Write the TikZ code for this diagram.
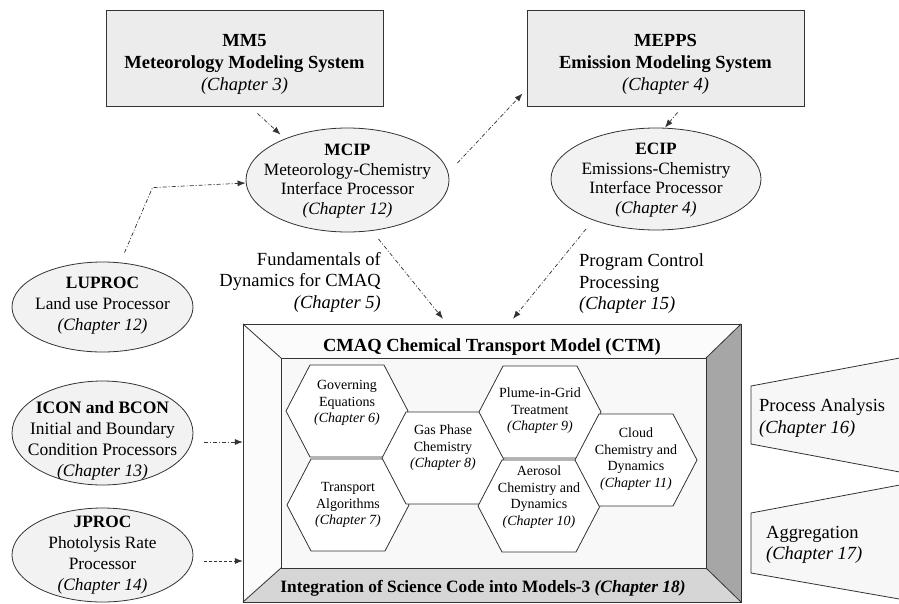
\documentclass[tikz,border=0pt]{standalone}
\usepackage{fontspec}
\setmainfont{Liberation Serif}
\usetikzlibrary{shapes.geometric,arrows.meta}
\definecolor{boxfill}{HTML}{ECECEC}
\definecolor{ellfill}{HTML}{F2F2F2}
\definecolor{linec}{HTML}{333333}
\definecolor{facelight}{HTML}{FBFBFB}
\definecolor{faceright}{HTML}{A6A6A6}
\definecolor{facebottom}{HTML}{D6D6D6}
\definecolor{faceinner}{HTML}{F8F8F8}
\definecolor{trapfill}{HTML}{F7F7F7}
\newcommand\hexat[1]{\draw[hexline] (#1) ++(-61,0) -- ++(24,-46) -- ++(74,0) -- ++(24,46) -- ++(-24,46) -- ++(-74,0) -- cycle;}
\begin{document}
\begin{tikzpicture}[x=1pt,y=-1pt,
  boxst/.style={draw=linec, fill=boxfill, line width=0.9pt, minimum width=277pt, minimum height=96pt, inner sep=0pt},
  boxtext/.style={align=center, inner sep=0pt, font=\fontsize{18.5}{22}\selectfont\bfseries},
  ellst/.style={ellipse, draw=linec, fill=ellfill, line width=0.8pt, inner sep=0pt},
  elltext/.style={align=center, inner sep=0pt, font=\fontsize{17.3}{19.5}\selectfont},
  plaintext/.style={inner sep=0pt, font=\fontsize{18.5}{21.5}\selectfont},
  hexline/.style={draw=linec, fill=white, line width=0.8pt},
  hextext/.style={align=center, inner sep=0pt, font=\fontsize{14}{16.5}\selectfont},
  face/.style={draw=linec, line width=0.8pt},
  arr/.style={-{Latex[length=8pt,width=6pt]}, draw=linec, line width=0.7pt, dash pattern=on 4pt off 2pt on 1pt off 2pt},
  arrd/.style={-{Latex[length=8pt,width=6pt]}, draw=linec, line width=0.7pt, dash pattern=on 3pt off 2pt}
]
\useasboundingbox (0,0) rectangle (899,603);

% top boxes
\node[boxst] (mm5) at (244.5,58) {};
\node[boxtext] (mm5t) at (244.5,64) {MM5\\Meteorology Modeling System\\{\mdseries\itshape (Chapter 3)}};
\node[boxst] (mepps) at (665.5,58) {};
\node[boxtext] (meppst) at (665.5,64) {MEPPS\\Emission Modeling System\\{\mdseries\itshape (Chapter 4)}};

% ellipses
\node[ellst, minimum width=203pt, minimum height=104pt] (mcip) at (347.5,180) {};
\node[elltext] (mcipt) at (347.5,181)
  {\textbf{MCIP}\\Meteorology-Chemistry\\Interface Processor\\\textit{(Chapter 12)}};
\node[ellst, minimum width=210pt, minimum height=102pt] (ecip) at (656,179) {};
\node[elltext] (ecipt) at (656,180)
  {\textbf{ECIP}\\Emissions-Chemistry\\Interface Processor\\\textit{(Chapter 4)}};
\node[ellst, minimum width=181pt, minimum height=90pt] (luproc) at (102.5,307) {};
\node[elltext, font=\fontsize{17.3}{21}\selectfont] (luproct) at (102.5,306)
  {\textbf{LUPROC}\\Land use Processor\\\textit{(Chapter 12)}};
\node[ellst, minimum width=181pt, minimum height=104pt] (icon) at (102.5,433) {};
\node[elltext, font=\fontsize{17.5}{21}\selectfont] (icont) at (102.5,441)
  {\textbf{ICON and BCON}\\Initial and Boundary\\Condition Processors\\\textit{(Chapter 13)}};
\node[ellst, minimum width=181pt, minimum height=94pt] (jproc) at (102.5,555) {};
\node[elltext, font=\fontsize{17.3}{21}\selectfont] (jproct) at (102.5,555)
  {\textbf{JPROC}\\Photolysis Rate\\Processor\\\textit{(Chapter 14)}};

% labels
\node[plaintext, align=right, anchor=east] (fund) at (381,282)
  {Fundamentals of\\Dynamics for CMAQ\\\textit{(Chapter 5)}};
\node[plaintext, align=left, anchor=west] (pcp) at (579,284)
  {Program Control\\Processing\\\textit{(Chapter 15)}};

% CTM box
\node[minimum width=498pt, minimum height=278pt, inner sep=0pt] (ctm) at (492,463) {};
\fill[facelight] (243,324) -- (741,324) -- (706,358) -- (281,358) -- cycle;
\fill[facelight] (243,324) -- (281,358) -- (281,568) -- (243,602) -- cycle;
\fill[faceright] (741,324) -- (706,358) -- (706,568) -- (741,602) -- cycle;
\fill[facebottom] (243,602) -- (281,568) -- (706,568) -- (741,602) -- cycle;
\fill[faceinner] (281,358) rectangle (706,568);
\draw[face] (243,324) rectangle (741,602);
\draw[face] (281,358) rectangle (706,568);
\draw[face] (243,324) -- (281,358) (741,324) -- (706,358) (243,602) -- (281,568) (741,602) -- (706,568);
\node[inner sep=0pt, font=\fontsize{18.5}{21}\selectfont\bfseries] (ctmt) at (492,347) {CMAQ Chemical Transport Model (CTM)};
\node[inner sep=0pt, font=\fontsize{17.3}{20}\selectfont\bfseries] (integ) at (483,588) {Integration of Science Code into Models-3 \textit{(Chapter 18)}};

% hexagons
\coordinate (h1) at (347,411);
\coordinate (h2) at (348,505);
\coordinate (h3) at (443,458);
\coordinate (h4) at (540,412);
\coordinate (h5) at (539,506);
\coordinate (h6) at (636,460);
\hexat{h1}\hexat{h2}\hexat{h3}\hexat{h4}\hexat{h5}\hexat{h6}
\node[hextext] (gov) at (347,403) {Governing\\Equations\\\textit{(Chapter 6)}};
\node[hextext] (trans) at (348,505) {Transport\\Algorithms\\\textit{(Chapter 7)}};
\node[hextext] (gas) at (443,448) {Gas Phase\\Chemistry\\\textit{(Chapter 8)}};
\node[hextext] (plume) at (540,411) {Plume-in-Grid\\Treatment\\\textit{(Chapter 9)}};
\node[hextext] (aero) at (539,497) {Aerosol\\Chemistry and\\Dynamics\\\textit{(Chapter 10)}};
\node[hextext] (cloud) at (636,459) {Cloud\\Chemistry and\\Dynamics\\\textit{(Chapter 11)}};

% right trapezoids
\fill[trapfill] (751,386) -- (905,357) -- (905,473) -- (751,444) -- cycle;
\draw[face] (905,357) -- (751,386) -- (751,444) -- (905,473);
\fill[trapfill] (751,513) -- (905,484) -- (905,600) -- (751,573) -- cycle;
\draw[face] (905,484) -- (751,513) -- (751,573) -- (905,600);
\node[plaintext, align=left, anchor=west] (pa) at (759,418) {Process Analysis\\\textit{(Chapter 16)}};
\node[plaintext, align=left, anchor=west] (agg) at (766,545) {Aggregation\\\textit{(Chapter 17)}};

% connectors
\draw[arr] ([xshift=13pt,yshift=-7pt]mm5.south) -- ([xshift=-67pt,yshift=-7pt]mcip.north);
\draw[arr] ([xshift=22pt,yshift=9pt]luproc.north) -- ++(28,-65) -- ([yshift=-3pt]mcip.west);
\draw[arr] ([xshift=8pt,yshift=17pt]mcip.east) -- ([xshift=-4pt,yshift=13pt]mepps.south west);
\draw[arr] ([xshift=12pt,yshift=-6pt]mepps.south) -- ([xshift=9pt]ecip.north);
\draw[arr] ([xshift=31pt,yshift=-59pt]mcip.center) -- ([xshift=-49pt,yshift=5pt]ctm.north);
\draw[arr] ([xshift=-70pt,yshift=-50pt]ecip.center) -- ([xshift=21pt,yshift=5pt]ctm.north);
\draw[arr] ([xshift=11pt,yshift=-9pt]icon.east) -- ([yshift=21pt]ctm.west);
\draw[arrd] ([xshift=11pt,yshift=-6pt]jproc.east) -- ([yshift=-98pt]ctm.west);
\end{tikzpicture}
\end{document}
